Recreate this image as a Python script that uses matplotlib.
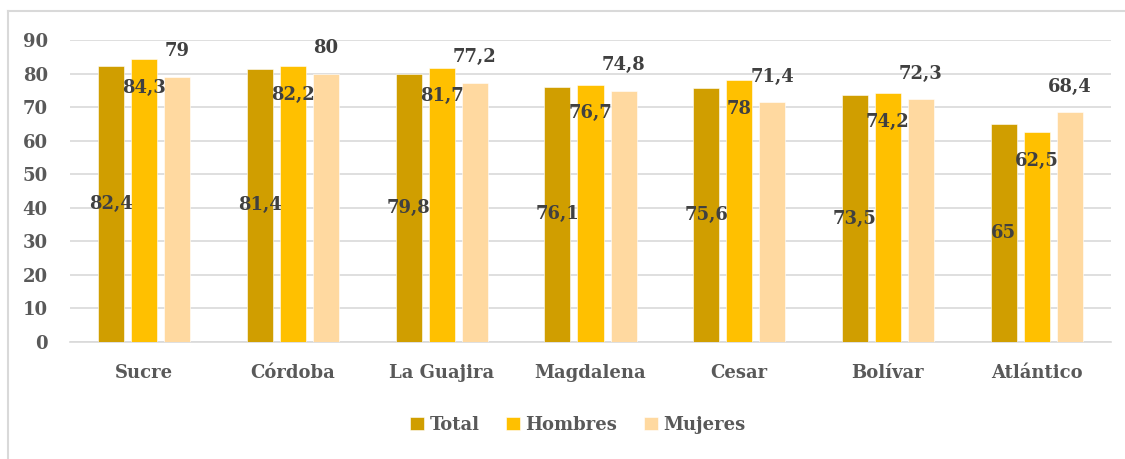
import matplotlib
matplotlib.use("Agg")
import matplotlib.pyplot as plt
from matplotlib.lines import Line2D
import numpy as np

categories = ["Sucre", "Córdoba", "La Guajira", "Magdalena", "Cesar", "Bolívar", "Atlántico"]
total = [82.4, 81.4, 79.8, 76.1, 75.6, 73.5, 65]
hombres = [84.3, 82.2, 81.7, 76.7, 78, 74.2, 62.5]
mujeres = [79, 80, 77.2, 74.8, 71.4, 72.3, 68.4]
series_names = ["Total", "Hombres", "Mujeres"]
colors = ["#D09E00", "#FFC000", "#FFD9A0"]
yticks = [0, 10, 20, 30, 40, 50, 60, 70, 80, 90]

plt.rcParams['font.family'] = ['DejaVu Serif']
plt.rcParams['font.weight'] = 'bold'

W, H = 1125, 459
fig = plt.figure(figsize=(W/100, H/100), dpi=100)
bx, by = 7.5/W, 1 - 10.5/H
fig.lines.append(Line2D([bx, bx], [0, by], transform=fig.transFigure, color="#D9D9D9", linewidth=1.5))
fig.lines.append(Line2D([bx, 1], [by, by], transform=fig.transFigure, color="#D9D9D9", linewidth=1.5))

ax = fig.add_axes([70/W, 1 - 342/H, (1111-70)/W, (342-40)/H])
x = np.arange(len(categories))
bw = 0.175
off = 0.222

def fmt(v):
    s = f"{v:g}"
    return s.replace(".", ",")

data = [total, hombres, mujeres]
for i, (vals, c, name) in enumerate(zip(data, colors, series_names)):
    xs = x + (i - 1) * off
    ax.bar(xs, vals, width=bw, color=c, label=name, zorder=3, edgecolor="white", linewidth=0.4)
    for xi, v in zip(xs, vals):
        if i == 0:
            ax.text(xi, v / 2, fmt(v), ha="center", va="center", fontsize=13,
                    color="#404040", fontweight="bold", zorder=4)
        elif i == 1:
            ax.annotate(fmt(v), (xi, v), xytext=(0, -20.5), textcoords="offset points",
                        ha="center", va="center", fontsize=13, color="#404040",
                        fontweight="bold", zorder=4)
        else:
            ax.annotate(fmt(v), (xi, v), xytext=(0, 18.5), textcoords="offset points",
                        ha="center", va="center", fontsize=13, color="#404040",
                        fontweight="bold", zorder=4)

ax.set_xlim(-0.5, len(categories) - 0.5)
ax.set_ylim(0, 90)
ax.set_yticks(yticks)
ax.set_xticks(x)
ax.set_xticklabels(categories)
ax.tick_params(axis="both", length=0, labelsize=13, labelcolor="#595959")
ax.tick_params(axis="y", pad=16)
ax.tick_params(axis="x", pad=16)
ax.grid(axis="y", color="#D9D9D9", linewidth=1.2, zorder=0)
for s in ["top", "right", "left"]:
    ax.spines[s].set_visible(False)
ax.spines["bottom"].set_color("#D9D9D9")
ax.spines["bottom"].set_linewidth(1.2)

leg = fig.legend(loc="center", bbox_to_anchor=(578/W, 1 - 425/H), ncol=3, frameon=False,
                 fontsize=13, handlelength=0.75, handleheight=0.75, columnspacing=1.5,
                 handletextpad=0.3)
for t in leg.get_texts():
    t.set_color("#595959")

fig.savefig("out.png", dpi=100)
